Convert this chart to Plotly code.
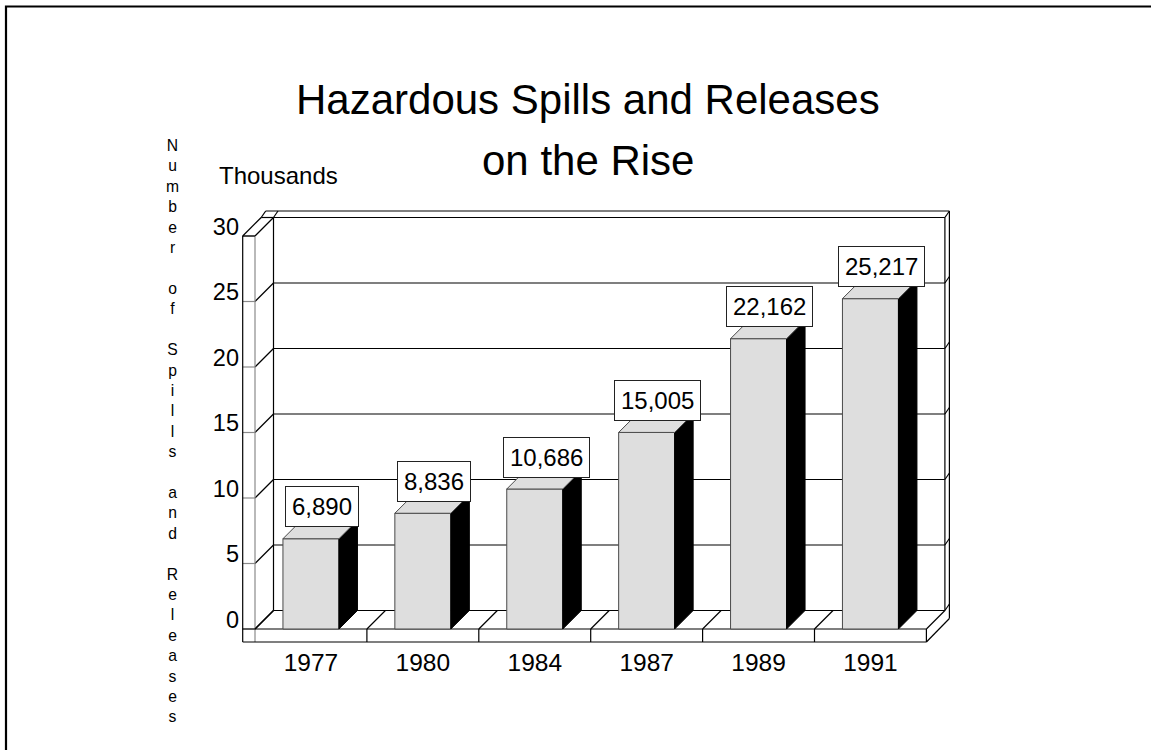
import plotly.graph_objects as go

# ---------------- data ----------------
years = ["1977", "1980", "1984", "1987", "1989", "1991"]
spills = [6890, 8836, 10686, 15005, 22162, 25217]
y_ticks = [0, 5, 10, 15, 20, 25, 30]
title_lines = ["Hazardous Spills and Releases", "on the Rise"]
y_title = "Number of Spills and Releases"
unit_label = "Thousands"

# ---------------- layout geometry (pixels) ----------------
W, H = 1151, 750
L, R, T, B = 241, 195, 200, 106
PW, PH = W - L - R, H - T - B
PX_CAT = 111.9          # pixels per category
PX_UNIT = 13.1          # pixels per thousand
X0_PX = 255 + PX_CAT / 2
Y0_PX = 629
DEPTH = 18.5            # pseudo-3D depth in pixels

FONT = "Liberation Sans, Arial, Helvetica, sans-serif"

ddx = DEPTH / PX_CAT
ddy = DEPTH / PX_UNIT
wt = 12.3 / PX_CAT      # left wall thickness
ft = 13.0 / PX_UNIT     # floor thickness
tdx = 4.5 / PX_CAT      # back wall thickness
tdy = 6.5 / PX_UNIT
hw = 28.0 / PX_CAT      # bar half width

n = len(years)
idx = list(range(n))
vals = [s / 1000 for s in spills]
vmax = y_ticks[-1]

x_range = [(L - X0_PX) / PX_CAT, (L + PW - X0_PX) / PX_CAT]
y_range = [(Y0_PX - (T + PH)) / PX_UNIT, (Y0_PX - T) / PX_UNIT]


def px_to_paper(px, py):
    return (px - L) / PW, (T + PH - py) / PH


shapes = []


def seg(x0, y0, x1, y1, color="black", width=1.2):
    shapes.append(dict(type="line", xref="x", yref="y", x0=x0, y0=y0, x1=x1, y1=y1,
                       line=dict(color=color, width=width), layer="below"))


GRAY = "#8a8a8a"
xl = -0.5                 # front left boundary
xr = n - 0.5              # front right boundary
xb0 = xl + ddx            # back wall left
xb1 = xr + ddx            # back wall right

# back wall gridlines + wall slants
for v in y_ticks:
    seg(xb0, v + ddy, xb1, v + ddy)
    seg(xl, v, xb0, v + ddy)
    seg(xl - wt, v, xl, v, color=GRAY)
    seg(xb1, v + ddy, xb1 + tdx, v + ddy + tdy)

# back wall top
seg(xb0 - wt, vmax + ddy, xb0, vmax + ddy)
seg(xb0 - wt, vmax + ddy, xb0 - wt + tdx, vmax + ddy + tdy)
seg(xb0, vmax + ddy, xb0 + tdx, vmax + ddy + tdy)
seg(xb0 - wt + tdx, vmax + ddy + tdy, xb1 + tdx, vmax + ddy + tdy)

# back wall verticals
seg(xb0, ddy, xb0, vmax + ddy)
seg(xb1, ddy, xb1, vmax + ddy)
right_floor_low = -ft + 23.5 / PX_UNIT
seg(xb1 + tdx, vmax + ddy + tdy, xb1 + tdx, right_floor_low)

# left wall
seg(xl - wt, vmax, xl - wt, -ft)
seg(xl, vmax, xl, -ft, color=GRAY)
seg(xl - wt, vmax, xl, vmax)
seg(xl - wt, vmax, xb0 - wt, vmax + ddy)

# floor
seg(xl - wt, 0, xr, 0)
seg(xl - wt, -ft, xr, -ft)
for k in range(n + 1):
    bx = k - 0.5
    seg(bx, 0, bx + ddx, ddy)
    if k > 0:
        seg(bx, -ft, bx, 0)
seg(xr, -ft, xb1 + tdx, right_floor_low)

# frame around the figure (left and top edges)
fx0, fy0 = px_to_paper(6, 6.5)
fx1, fy1 = px_to_paper(1200, 800)
shapes.append(dict(type="path", xref="paper", yref="paper",
                   path=f"M {fx0},{fy1} L {fx0},{fy0} L {fx1},{fy0}",
                   line=dict(color="black", width=2.2)))

fig = go.Figure()

# front faces of the bars
fig.add_trace(go.Bar(x=idx, y=vals, width=2 * hw,
                     marker=dict(color="#dedede", line=dict(color="#4a4a4a", width=1)),
                     hoverinfo="skip", showlegend=False))

# side faces (black)
sx, sy = [], []
for i, v in zip(idx, vals):
    sx += [i + hw, i + hw + ddx, i + hw + ddx, i + hw, i + hw, None]
    sy += [0, ddy, v + ddy, v, 0, None]
fig.add_trace(go.Scatter(x=sx, y=sy, mode="lines", fill="toself", fillcolor="black",
                         line=dict(color="black", width=1), hoverinfo="skip", showlegend=False))

# top faces
tx, ty = [], []
for i, v in zip(idx, vals):
    tx += [i - hw, i - hw + ddx, i + hw + ddx, i + hw, i - hw, None]
    ty += [v, v + ddy, v + ddy, v, v, None]
fig.add_trace(go.Scatter(x=tx, y=ty, mode="lines", fill="toself", fillcolor="#dedede",
                         line=dict(color="#4a4a4a", width=1), hoverinfo="skip", showlegend=False))

annotations = []
# value labels
for i, v, s in zip(idx, vals, spills):
    annotations.append(dict(x=i + ddx / 2 + 2 / PX_CAT, y=v + 11.5 / PX_UNIT, xref="x", yref="y",
                            text=f"{s:,}", showarrow=False, xanchor="center", yanchor="bottom",
                            font=dict(family=FONT, size=24, color="black"),
                            bgcolor="white", bordercolor="#222", borderwidth=1, borderpad=6))

# title lines
for text, py in zip(title_lines, [99, 160]):
    ax, ay = px_to_paper(588, py)
    annotations.append(dict(x=ax, y=ay, xref="paper", yref="paper", text=text, showarrow=False,
                            xanchor="center", yanchor="middle",
                            font=dict(family=FONT, size=42, color="black")))

# units label
ux, uy = px_to_paper(216.5, 175)
annotations.append(dict(x=ux, y=uy, xref="paper", yref="paper", text=unit_label, showarrow=False,
                        xanchor="left", yanchor="middle",
                        font=dict(family=FONT, size=24, color="black")))

# stacked vertical axis title
stack = "<br>".join(ch if ch != " " else "\u00a0" for ch in y_title)
line_h = 20.4
cx, cy = px_to_paper(172.5, 145 + line_h * (len(y_title) - 1) / 2)
annotations.append(dict(x=cx, y=cy, xref="paper", yref="paper", text=stack, showarrow=False,
                        xanchor="center", yanchor="middle",
                        font=dict(family=FONT, size=15.7, color="black")))

fig.update_layout(
    width=W, height=H,
    margin=dict(l=L, r=R, t=T, b=B, pad=0),
    paper_bgcolor="white", plot_bgcolor="white",
    showlegend=False, barmode="overlay",
    shapes=shapes, annotations=annotations,
    font=dict(family=FONT, color="black"),
    xaxis=dict(range=x_range, tickvals=idx, ticktext=years, showgrid=False, zeroline=False,
               showline=False, ticks="", tickfont=dict(family=FONT, size=24.5, color="black"),
               automargin=False, fixedrange=True, ticklabelstandoff=1),
    yaxis=dict(range=y_range, tickvals=[v + ddy / 2 for v in y_ticks],
               ticktext=[str(v) for v in y_ticks], showgrid=False, zeroline=False,
               showline=False, ticks="", tickfont=dict(family=FONT, size=23.5, color="black"),
               automargin=False, fixedrange=True, ticklabelstandoff=1),
)

fig.write_html("out.html", config={"displayModeBar": False},
               post_script="document.body.style.margin='0px';document.body.style.padding='0px';")
